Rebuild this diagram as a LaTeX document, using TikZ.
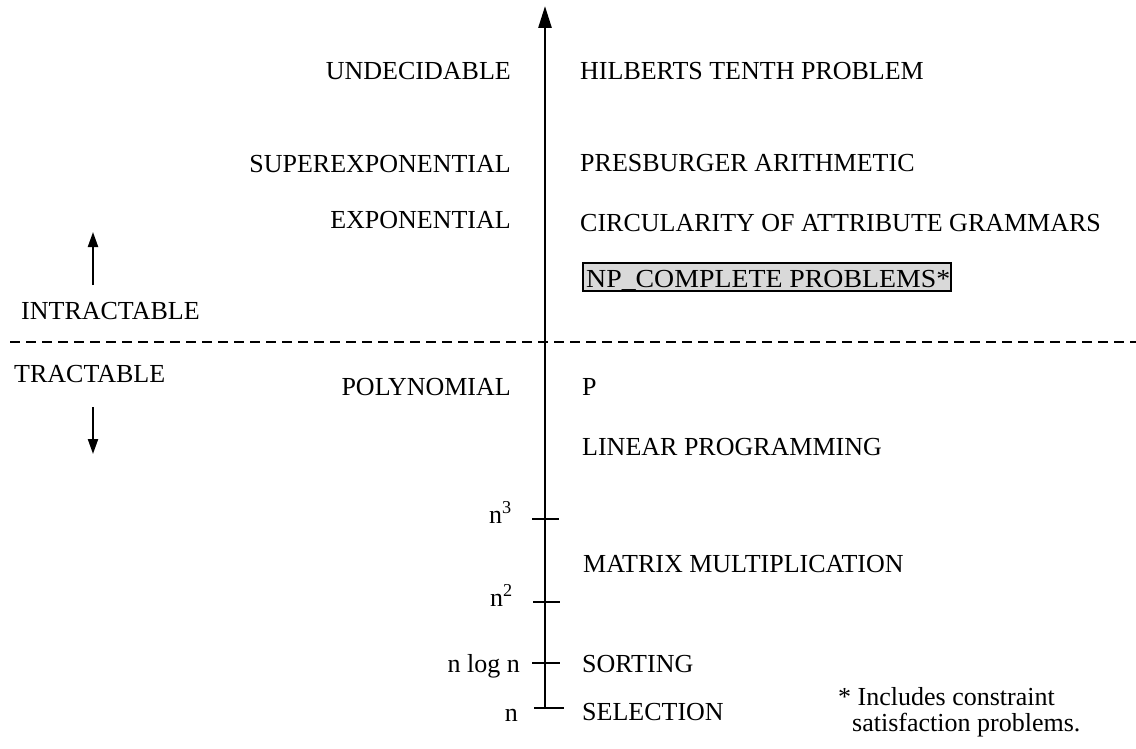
\documentclass[tikz,border=0pt]{standalone}
\usepackage{fontspec}
\usepackage{graphicx}
\setmainfont{Liberation Serif}
\usetikzlibrary{arrows.meta}
\begin{document}
\begin{tikzpicture}[x=1pt,y=-1pt,
  lbl/.style={font=\fontsize{26}{30}\selectfont, inner sep=0pt},
  lleft/.style={lbl, anchor=base east},
  lright/.style={lbl, anchor=base west},
  axisline/.style={line width=2.7pt, -{Triangle[length=22pt,width=13pt]}},
  tick/.style={line width=2.6pt},
  side/.style={line width=2.2pt, -{Triangle[length=15pt,width=10pt]}},
  sep/.style={line width=1.5pt, dash pattern=on 10pt off 6pt},
  npbox/.style={draw, line width=1.5pt, fill=gray!30}
]
\useasboundingbox (0,0) rectangle (1136,749);
\fill[white] (0,0) rectangle (1136,749);

% axis
\coordinate (bot) at (545,709);
\coordinate (top) at (545,6);
\draw[axisline] (bot) -- (top);

% ticks
\coordinate (t3a) at (532,519); \coordinate (t3b) at (559,519);
\coordinate (t2a) at (533,602); \coordinate (t2b) at (560,602);
\coordinate (tla) at (532,663); \coordinate (tlb) at (560,663);
\coordinate (tna) at (534,708); \coordinate (tnb) at (564,708);
\draw[tick] (t3a) -- (t3b);
\draw[tick] (t2a) -- (t2b);
\draw[tick] (tla) -- (tlb);
\draw[tick] (tna) -- (tnb);

% separator
\coordinate (sepL) at (10,342);
\coordinate (sepR) at (1136,342);
\draw[sep] (sepL) -- (sepR);

% left labels
\node[lleft] (undec) at (511,80) {UNDECIDABLE};
\node[lleft] (superexp) at (511,173) {SUPEREXPONENTIAL};
\node[lleft] (exp) at (511,229) {EXPONENTIAL};
\node[lleft] (poly) at (511,395) {POLYNOMIAL};
\node[lleft] (n3) at (512,523) {n\textsuperscript{3}};
\node[lleft] (n2) at (513,606) {n\textsuperscript{2}};
\node[lleft] (nlogn) at (520,672) {n log n};
\node[lleft] (n) at (518,721) {n};

% right labels
\node[lright] (hilbert) at (580,80) {HILBERTS TENTH PROBLEM};
\node[lright] (presb) at (580,172) {PRESBURGER ARITHMETIC};
\node[lright] (circ) at (580,231) {CIRCULARITY OF ATTRIBUTE GRAMMARS};
\coordinate (npA) at (583,263);
\coordinate (npB) at (951,291);
\draw[npbox] (npA) rectangle (npB);
\node[lright] (np) at (586,287) {\scalebox{1.07}[1]{NP\_COMPLETE PROBLEMS*}};
\node[lright] (p) at (582,395) {P};
\node[lright] (lp) at (582,455) {LINEAR PROGRAMMING};
\node[lright] (mm) at (583,572) {MATRIX MULTIPLICATION};
\node[lright] (sort) at (582,672) {SORTING};
\node[lright] (sel) at (582,720) {SELECTION};

% intractable / tractable
\node[lright] (intr) at (21,319) {INTRACTABLE};
\node[lright] (tr) at (14,382) {TRACTABLE};
\coordinate (upS) at (93,285); \coordinate (upE) at (93,232);
\coordinate (dnS) at (93,407); \coordinate (dnE) at (93,454);
\draw[side] (upS) -- (upE);
\draw[side] (dnS) -- (dnE);

% footnote
\node[lbl, anchor=base west] (fn1) at (838,705) {* Includes constraint};
\node[lbl, anchor=base west] (fn2) at (852,731) {satisfaction problems.};
\end{tikzpicture}
\end{document}
